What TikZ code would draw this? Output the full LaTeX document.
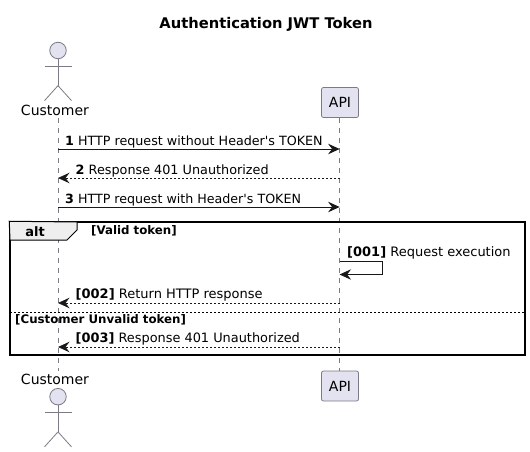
\documentclass[tikz,border=0pt]{standalone}
\usepackage{fontspec}
\setmainfont{DejaVu Sans}
\usetikzlibrary{arrows.meta,positioning}
\definecolor{ptfill}{HTML}{E2E2F0}
\definecolor{ptline}{HTML}{7B7B86}
\definecolor{altfill}{HTML}{EEEEEE}
\definecolor{msgline}{HTML}{181818}
\tikzset{
    %Define standard arrow tip
    >={Stealth[length=11.5pt,width=10.5pt,inset=4pt]},
    %Define style for boxes
    prt/.style={
           draw = ptline, fill = ptfill, line width = 0.8pt,
           rounded corners = 2pt,
           minimum width = 37pt, minimum height = 30pt,
           inner sep = 0pt,
           font = \fontsize{14}{16}\selectfont},
    actr/.style={
           inner sep = 0pt,
           font = \fontsize{14}{16}\selectfont},
    fig/.style={
           draw = ptline, line width = 0.8pt},
    life/.style={
           ptline, line width = 0.8pt, dash pattern = on 5pt off 5pt},
    % Define arrow style
    ests/.style={
           ->, msgline, line width = 0.8pt},
    dts/.style={
           ->, msgline, line width = 0.8pt, dash pattern = on 2pt off 2pt},
    msg/.style={
           anchor = base west, inner sep = 0pt, text = black,
           font = \fontsize{#1}{15}\selectfont},
    msg/.default=13,
    grd/.style={
           anchor = base west, inner sep = 0pt,
           font = \fontsize{11.8}{13}\selectfont\bfseries}
}

\begin{document}
\begin{tikzpicture}[x=1pt, y=-1pt]
\useasboundingbox (0,0) rectangle (530,452);
 %nodes
\node[anchor=base, inner sep=0pt, font=\fontsize{14.7}{16}\selectfont\bfseries] (title) at (266,28.5) {Authentication JWT Token};
\node[actr] (custtop) at (55,110) {Customer};
\node[actr] (custbot) at (55,379) {Customer};
\node[prt] (apitop) at (340,102.5) {API};
\node[prt] (apibot) at (340,386) {API};
 %lifelines
\draw[life] (58,118) -- (58,371);
\draw[life] (339.6,118) -- (339.6,371);
 %actors
\foreach \nm/\yy in {headtop/50.5, headbot/396.7}{
\node[fig, circle, fill=ptfill, minimum size=16.5pt, inner sep=0pt] (\nm) at (58,\yy) {};
\draw[fig] (\nm.south) -- ++(0,26.5) coordinate (\nm hip)
	++(-13.5,-19.5) -- ++(27,0);
\draw[fig] (\nm hip) -- ++(-13.5,15) (\nm hip) -- ++(13.5,15);
}
 %frame
\node[draw=black, line width=1.5pt, minimum width=515pt, minimum height=133pt, inner sep=0pt] (frame) at (267.5,288.5) {};
\filldraw[draw=black, fill=altfill, line width=1pt] (frame.north west) -- (77,222) -- (77,230) -- (67,240) -- (10,240) -- cycle;
\node[grd, font=\fontsize{13}{15}\selectfont\bfseries, anchor=base] (alt) at (35,236) {alt};
\node[grd] (valid) at (91,234) {[Valid token]};
\coordinate (divl) at (10,312.5);
\coordinate (divr) at (525,312.5);
\draw[black, line width=0.8pt, dash pattern=on 2pt off 2pt] (divl) -- (divr);
\node[grd] (unvalid) at (15,323.5) {[Customer Unvalid token]};
 %messages
\foreach \nm/\yy in {one/149, two/178, three/207, five/303, six/347}{
\coordinate (c\nm) at (58,\yy);
\coordinate (a\nm) at (339.6,\yy);
}
\draw[ests] (cone) -- (aone);
\draw[dts] (atwo) -- (ctwo);
\draw[ests] (cthree) -- (athree);
\draw[dts] (afive) -- (cfive);
\draw[dts] (asix) -- (csix);
\coordinate (sa) at (339.6,261.5);
\coordinate (sb) at (339.6,274.5);
\draw[ests] (sa) -- (382.5,261.5) -- (382.5,274.5) -- (sb);
 %labels
\node[msg=12.7] (lone) at (65,145) {\textbf{1} HTTP request without Header\textquotesingle s TOKEN};
\node[msg=12.8] (ltwo) at (75.5,174) {\textbf{2} Response 401 Unauthorized};
\node[msg=12.65] (lthree) at (65,203) {\textbf{3} HTTP request with Header\textquotesingle s TOKEN};
\node[msg] (lfour) at (347,256) {\textbf{[001]} Request execution};
\node[msg] (lfive) at (75.5,298) {\textbf{[002]} Return HTTP response};
\node[msg=12.9] (lsix) at (75.5,342) {\textbf{[003]} Response 401 Unauthorized};
\end{tikzpicture}
\end{document}
